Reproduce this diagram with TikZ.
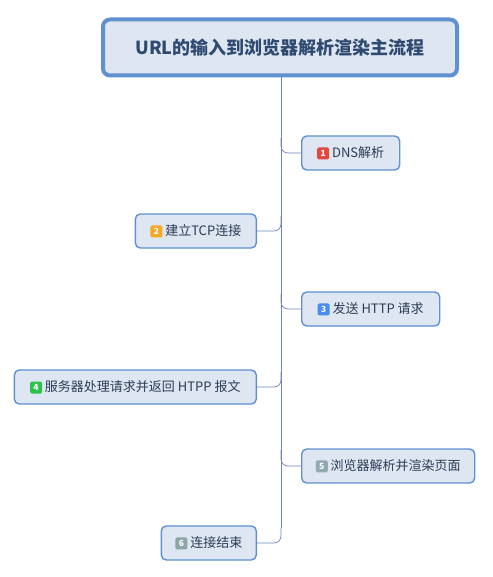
\documentclass[tikz,border=0pt]{standalone}
\usepackage{fontspec}
\setmainfont{Noto Sans CJK SC}
\usetikzlibrary{calc}
\definecolor{boxfill}{HTML}{DEE6F1}
\definecolor{boxline}{HTML}{5E90D2}
\definecolor{linec}{HTML}{6F84BC}
\definecolor{txt}{HTML}{2B3C55}
\definecolor{roottxt}{HTML}{2E4A70}
\definecolor{b1}{HTML}{E2483D}
\definecolor{b2}{HTML}{F6A822}
\definecolor{b3}{HTML}{4A8CF0}
\definecolor{b4}{HTML}{2CC24C}
\definecolor{b5}{HTML}{8FAAB0}
\definecolor{b6}{HTML}{8AA7A7}
\tikzset{
  rootbox/.style={draw=boxline, line width=4pt, fill=boxfill, rounded corners=7pt,
    minimum width=354pt, minimum height=56pt, font=\fontsize{18}{21}\selectfont\bfseries, text=roottxt},
  childbox/.style={draw=boxline, line width=1.4pt, fill=boxfill, rounded corners=5pt,
    minimum height=34pt, inner xsep=6pt, font=\fontsize{13}{15}\selectfont, text=txt},
  conn/.style={draw=linec, line width=0.7pt, rounded corners=7pt},
}
\newcommand{\badge}[2]{\tikz[baseline=-4pt]\node[fill=#1, rounded corners=1.5pt, text=white, font=\fontsize{8.5}{8.5}\selectfont\bfseries, minimum size=12pt, inner sep=0pt]{#2};}
\begin{document}
\begin{tikzpicture}[x=1pt, y=-1pt]
\useasboundingbox (0,0) rectangle (492,577);
\node[rootbox] (root) at (280,47.5) {URL的输入到浏览器解析渲染主流程};
\node[childbox, anchor=west, minimum width=98pt] (n1) at (301,153) {\badge{b1}{1} DNS解析};
\node[childbox, anchor=east, minimum width=121pt] (n2) at (257,231) {\badge{b2}{2} 建立TCP连接};
\node[childbox, anchor=west, minimum width=138pt] (n3) at (301,309) {\badge{b3}{3} 发送 HTTP 请求};
\node[childbox, anchor=east, minimum width=242pt] (n4) at (257,387) {\badge{b4}{4} 服务器处理请求并返回 HTPP 报文};
\node[childbox, anchor=west, minimum width=173pt] (n5) at (301,466) {\badge{b5}{5} 浏览器解析并渲染页面};
\node[childbox, anchor=east, minimum width=95pt] (n6) at (257,543) {\badge{b6}{6} 连接结束};
\coordinate (top) at (281,77);
\coordinate (t1) at (281,138);
\coordinate (t2) at (281,216);
\coordinate (t3) at (281,294);
\coordinate (t4) at (281,372);
\coordinate (t5) at (281,450);
\coordinate (t6) at (281,528);
\draw[conn] (top) -- (t6);
\draw[conn] (t1) |- (n1.west);
\draw[conn] (t2) |- (n2.east);
\draw[conn] (t3) |- (n3.west);
\draw[conn] (t4) |- (n4.east);
\draw[conn] (t5) |- (n5.west);
\draw[conn] (t6) |- (n6.east);
\end{tikzpicture}
\end{document}
